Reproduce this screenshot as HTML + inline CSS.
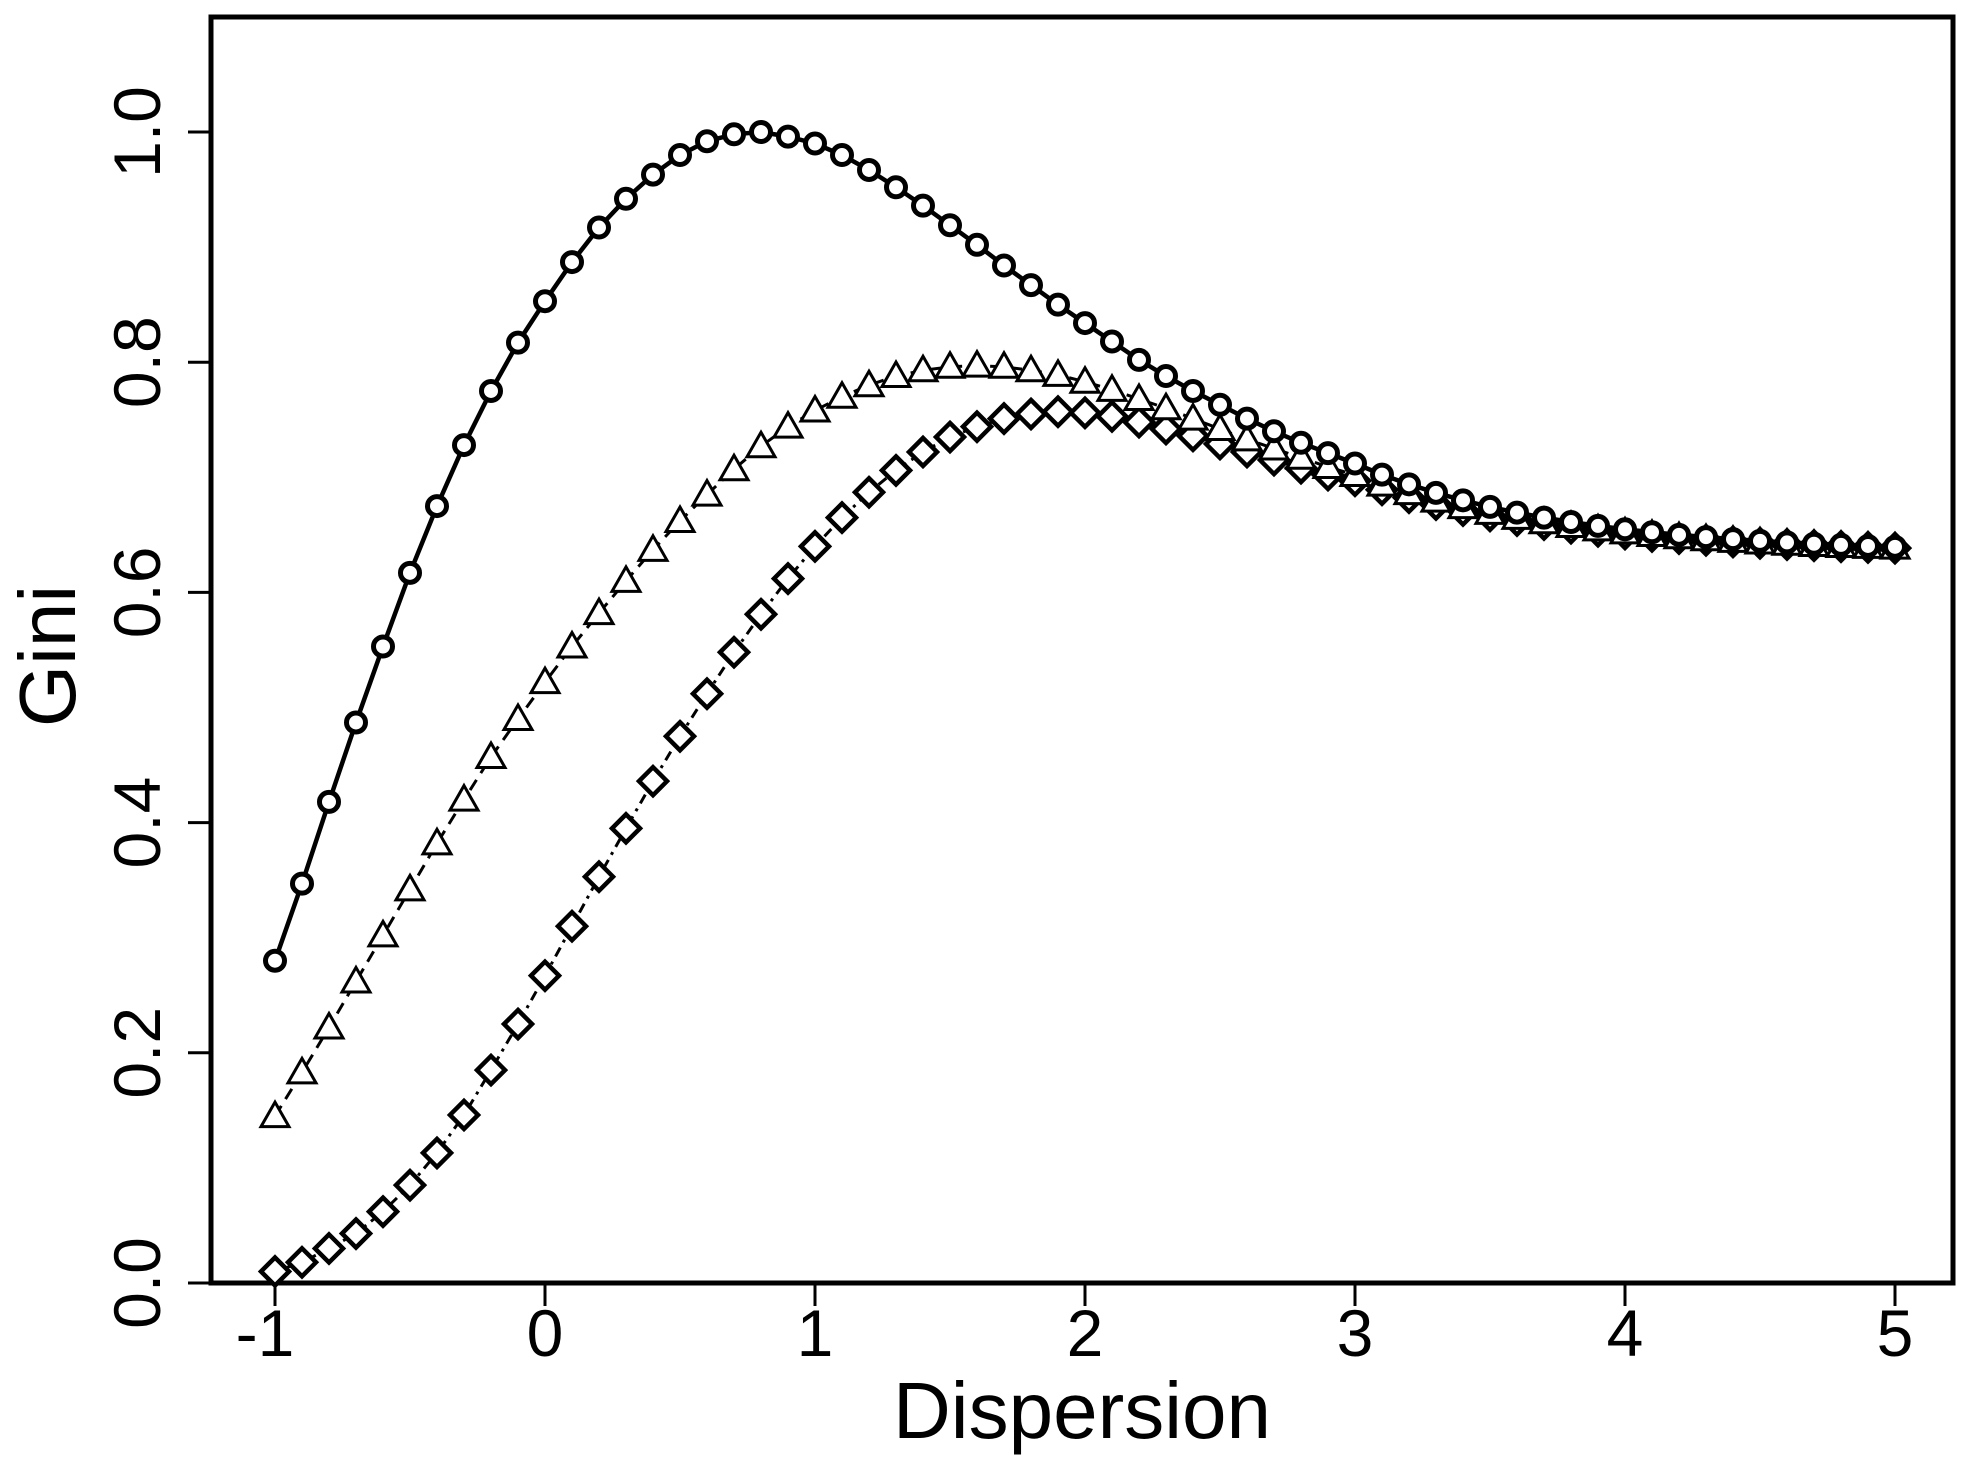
<!DOCTYPE html>
<html><head><meta charset="utf-8"><style>
html,body{margin:0;padding:0;background:#fff;}
svg{display:block;}
text{font-family:"Liberation Sans",Arial,sans-serif;fill:#000;}
</style></head><body>
<svg id="s" width="1978" height="1481" viewBox="0 0 1978 1481" xmlns="http://www.w3.org/2000/svg">
<rect x="211" y="17" width="1742" height="1266" fill="none" stroke="#000" stroke-width="5"/>
<g id="ax" stroke="#000" stroke-width="3"></g>
<g id="lab" font-size="66" text-anchor="middle"></g>
<text x="1082" y="1438" font-size="80" text-anchor="middle">Dispersion</text>
<text transform="translate(75,656) rotate(-90)" font-size="80" text-anchor="middle">Gini</text>
<g id="data" fill="none" stroke="#000"></g>
</svg>
<script>
var NS="http://www.w3.org/2000/svg";
function X(v){return 545+v*270;}
function Y(v){return 1283-v*1151;}
function el(p,t,a){var e=document.createElementNS(NS,t);for(var k in a)e.setAttribute(k,a[k]);p.appendChild(e);return e;}
var ax=document.getElementById('ax'),lab=document.getElementById('lab');
for(var i=-1;i<=5;i++){el(ax,'line',{x1:X(i),x2:X(i),y1:1283,y2:1306});var t=el(lab,'text',{x:X(i)-(i<0?10:0),y:1356});t.textContent=i;}
for(var j=0;j<=5;j++){var v=j*0.2;el(ax,'line',{x1:188,x2:211,y1:Y(v),y2:Y(v)});var t=el(lab,'text',{transform:'translate(160,'+Y(v)+') rotate(-90)'});t.textContent=v.toFixed(1);}
var c=[0.28,0.347,0.418,0.487,0.553,0.617,0.675,0.728,0.775,0.817,0.853,0.887,0.917,0.942,0.963,0.98,0.992,0.998,1.0,0.996,0.99,0.98,0.967,0.952,0.936,0.919,0.902,0.884,0.867,0.85,0.834,0.818,0.802,0.788,0.775,0.763,0.751,0.74,0.73,0.721,0.712];
var tr=[0.145,0.183,0.222,0.262,0.302,0.342,0.382,0.42,0.457,0.49,0.522,0.553,0.582,0.61,0.637,0.662,0.685,0.707,0.727,0.744,0.758,0.77,0.78,0.788,0.793,0.796,0.797,0.796,0.793,0.789,0.783,0.776,0.768,0.76,0.751,0.742,0.733,0.725,0.717,0.709,0.702];
var d=[0.01,0.018,0.03,0.043,0.062,0.085,0.113,0.146,0.185,0.225,0.267,0.31,0.353,0.395,0.436,0.475,0.512,0.548,0.581,0.612,0.64,0.665,0.687,0.706,0.722,0.735,0.744,0.751,0.755,0.757,0.756,0.753,0.748,0.742,0.736,0.729,0.722,0.715,0.708,0.702,0.697];
function ext(a){var last=a[a.length-1],amp=last-0.634;for(var k=1;k<=20;k++){a.push(0.634+amp*Math.exp(-1.32*k*0.1));}return a;}
ext(c);ext(tr);ext(d);
var g=document.getElementById('data');
function line(a,dash,w){var p='';a.forEach(function(v,i){p+=(i?'L':'M')+X(-1+i*0.1).toFixed(1)+','+Y(v).toFixed(1);});el(g,'path',{d:p,'stroke-width':w,'stroke-dasharray':dash||'none'});}
line(c,null,4.5);line(tr,'12,8',3);line(d,'3,6,10,6',3);
d.forEach(function(v,i){var x=X(-1+i*0.1),y=Y(v),r=14;el(g,'path',{d:'M'+x+','+(y-r)+'L'+(x+r)+','+y+'L'+x+','+(y+r)+'L'+(x-r)+','+y+'Z','stroke-width':4.5,fill:'#fff'});});
tr.forEach(function(v,i){var x=X(-1+i*0.1),y=Y(v),r=14;el(g,'path',{d:'M'+x+','+(y-r)+'L'+(x+r)+','+(y+r*0.75)+'L'+(x-r)+','+(y+r*0.75)+'Z','stroke-width':3,fill:'#fff'});});
c.forEach(function(v,i){var x=X(-1+i*0.1),y=Y(v);el(g,'circle',{cx:x,cy:y,r:9.5,'stroke-width':5,fill:'#fff'});});
</script>
</body></html>
